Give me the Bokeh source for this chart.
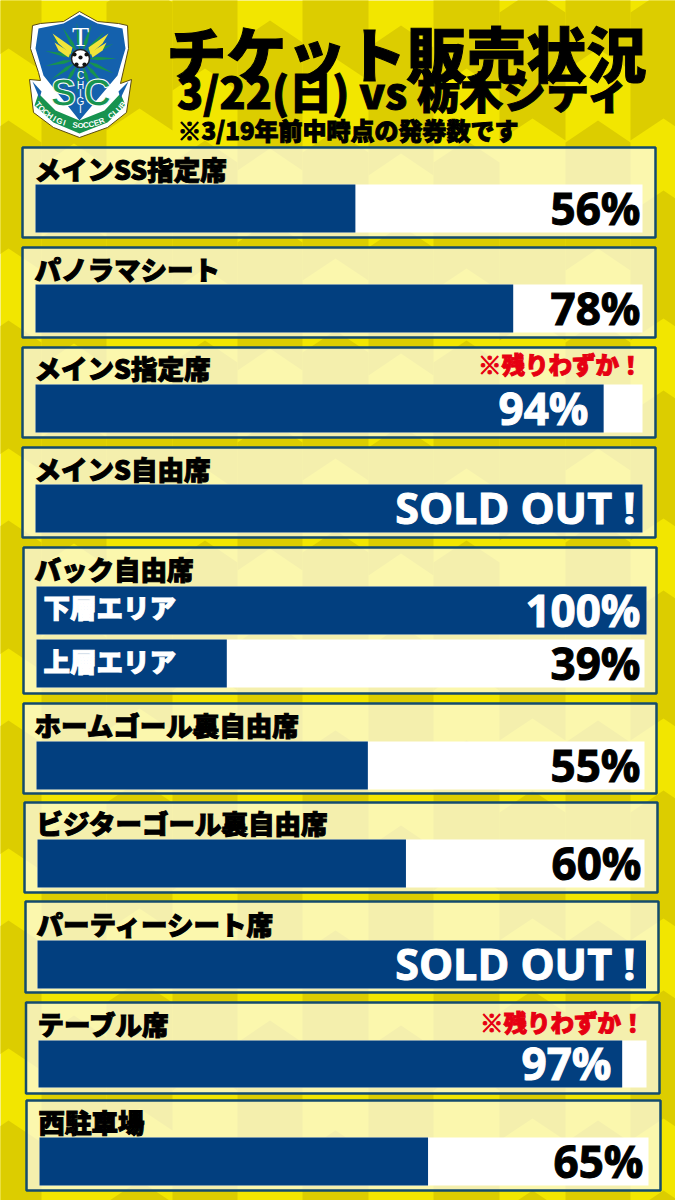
import math
from bokeh.plotting import figure
from bokeh.models import Range1d
from bokeh.core.properties import value
from bokeh.embed import file_html
from bokeh.resources import INLINE

# ---- chart values ----
title = "チケット販売状況"
subtitle = "3/22(日) vs 栃木シティ"
note = "※3/19年前中時点の発券数です"
few_left = "※残りわずか！"
seat_names = ["メインSS指定席", "パノラマシート", "メインS指定席", "メインS自由席", "バック自由席",
              "ホームゴール裏自由席", "ビジターゴール裏自由席", "パーティーシート席", "テーブル席", "西駐車場"]
row_labels = ["56%", "78%", "94%", "SOLD OUT !", "100%", "39%", "55%", "60%", "SOLD OUT !", "97%", "65%"]
row_fill = [52.7, 78.7, 93.6, 100, 100, 31.3, 54.5, 60.7, 100, 96.0, 63.8]
sub_labels = ["下層エリア", "上層エリア"]

# ---- layout (page pixels) ----
panel_l = [22, 22, 22, 22, 23, 23, 24, 25, 25.5, 26]
panel_r = [655, 655, 655, 655, 656, 656, 657, 658, 659, 660]
panel_t = [147, 247, 347, 447, 547, 703, 802, 901, 1002, 1100]
panel_b = [237, 337, 437, 537, 693, 793, 892, 992, 1093, 1190]
name_x = [34, 34, 34, 34, 34, 34, 36, 36, 37, 38]
name_y = [168, 268, 367, 468, 568, 724, 822, 923, 1023, 1121]
row_l = [35, 35, 35, 35, 36, 36, 36, 37, 37, 38, 39]
row_r = [642, 642, 642, 642, 646, 644, 644, 644, 645.5, 646, 648]
row_t = [184, 284, 384, 484, 586, 639, 741, 839, 940, 1040, 1137]
row_b = [232, 332, 432, 532, 634, 687, 789, 887, 988, 1087, 1185]
label_x = [640, 640, 588, 635, 640, 640, 640, 641, 635, 611, 643]
label_size = ["44px", "44px", "44px", "43px", "44px", "44px", "44px", "44px", "43px", "44px", "44px"]
label_white = [False, False, True, True, True, False, False, False, True, True, False]

NAVY = "#023f7f"
EDGE = "#134b6e"
YEL = "#f2e600"
DARK = "#dccd00"
GREEN = "#17934f"
JP = value("Noto Sans CJK JP Black")
NUM = value("Open Sans")
LATIN = value("Liberation Sans")

p = figure(width=675, height=1200, x_range=Range1d(0, 675), y_range=Range1d(1200, 0),
           toolbar_location=None, output_backend="svg", min_border=0)
p.axis.visible = False
p.grid.visible = False
p.outline_line_color = None
p.background_fill_color = YEL
p.border_fill_color = YEL

# background: columns of chevron tiles
col_edges = [-25, 41, 106, 172, 237, 302, 368, 433, 499, 565, 630, 696]
col_phase = [-80, 15, -20, -60, 20, -70, 25, -60, -10, -80, -10]
xs, ys = [], []
for c, ph in enumerate(col_phase):
    x0, x1 = col_edges[c], col_edges[c + 1]
    xc = (x0 + x1) / 2
    for j in range(-1, 8):
        y = ph + j * 200
        xs.append([x0, xc, x1, x1, xc, x0])
        ys.append([y + 22, y, y + 22, y + 150, y + 128, y + 150])
p.patches(xs, ys, fill_color=DARK, line_color=None)

# panels
p.quad(left=panel_l, right=panel_r, top=panel_t, bottom=panel_b,
       fill_color="#ffffff", fill_alpha=0.68, line_color=EDGE, line_width=2.5)

# tracks and bars
p.quad(left=row_l, right=row_r, top=row_t, bottom=row_b, fill_color="#ffffff", line_color=None)
row_end = [l + (r - l) * v / 100 for l, r, v in zip(row_l, row_r, row_fill)]
p.quad(left=row_l, right=row_end, top=row_t, bottom=row_b, fill_color=NAVY, line_color=None)

# seat names
p.text(name_x, name_y, text=seat_names, text_font=JP, text_font_size="26.5px",
       text_baseline="middle", text_color="#000000", text_outline_color="#000000")

# row values
row_mid = [(t + b) / 2 - 1 for t, b in zip(row_t, row_b)]
p.text(label_x, row_mid, text=row_labels, text_font=NUM, text_font_style="bold", text_font_size=label_size,
       text_align="right", text_baseline="middle",
       text_color=["#ffffff" if w else "#000000" for w in label_white],
       text_outline_color=["#ffffff" if w else "#000000" for w in label_white])

# sub rows
p.text([43, 43], [606, 660], text=sub_labels, text_font=JP, text_font_size="26.5px",
       text_baseline="middle", text_color="#ffffff", text_outline_color="#ffffff")

# low stock notes
p.text([642, 644], [363, 1021], text=[few_left, few_left], text_font=JP, text_font_size="23.5px",
       text_align="right", text_baseline="middle", text_color="#e60012", text_outline_color="#e60012")

# headers
p.text([406], [57], text=[title], text_font=value("Liberation Sans, 'Noto Sans CJK JP Black'"),
       text_font_size="60px", text_align="center", text_baseline="alphabetic",
       text_color="#000000", text_outline_color="#000000")
p.text([404], [89], text=[subtitle], text_font=JP, text_font_size="43px", text_align="center",
       text_baseline="middle", text_color="#000000", text_outline_color="#000000")
p.text([347.5], [129], text=[note], text_font=JP, text_font_size="24px", text_align="center",
       text_baseline="middle", text_color="#000000", text_outline_color="#000000")

# crest
outer_x = [79, 63, 40, 32, 30, 38, 40, 29, 33, 53, 79, 107, 126, 131, 120, 128, 127, 118, 97]
outer_y = [11, 21, 23, 25, 48, 72, 80, 79, 112, 127, 137, 127, 112, 79, 83, 48, 25, 23, 21]
p.patch(outer_x, outer_y, fill_color="#ffffff", line_color="#5a4a10", line_width=1)
blue_x = [79, 63, 38, 35, 43, 79, 117, 125, 122, 97]
blue_y = [14, 23, 28, 48, 75, 120, 75, 48, 28, 23]
p.patch(blue_x, blue_y, fill_color="#1461ad", line_color=None)
# rays
cx, cy = 80, 58
ray_x, ray_y = [], []
for deg in range(0, 360, 24):
    a, b, c = [math.radians(deg + d) for d in (0, -6, 6)]
    ray_x.append([cx + 8 * math.cos(a), cx + 17 * math.cos(b), cx + 36 * math.cos(a), cx + 17 * math.cos(c)])
    ray_y.append([cy + 8 * math.sin(a), cy + 17 * math.sin(b), cy + 36 * math.sin(a), cy + 17 * math.sin(c)])
p.patches(ray_x, ray_y, fill_color=GREEN, line_color=None)
# wings
for wx, wy in (([72, 52, 58, 66, 70], [47, 33, 43, 50, 54]), ([70, 54, 58, 68], [52, 42, 50, 57])):
    p.patch(wx, wy, fill_color="#f2e43a", line_color=None)
    p.patch([160 - v for v in wx], wy, fill_color="#f2e43a", line_color=None)
# ribbon
rib_x = [34, 53, 79, 107, 125, 120, 104, 79, 55, 38]
rib_y = [105, 122, 133, 122, 105, 93, 110, 120, 110, 93]
p.patch(rib_x, rib_y, fill_color=GREEN, line_color=None)
p.patches([[32, 41, 39], [128, 118, 120]], [[81, 91, 98], [81, 91, 98]], fill_color="#1461ad", line_color=None)
# letters
p.text([80], [36], text=["T"], text_font=value("Liberation Serif"), text_font_size="28px", text_align="center",
       text_baseline="middle", text_color="#ffffff")
p.text([80, 80, 80, 80, 80], [75, 85, 93, 101, 109], text=list("CHIGI"), text_font=LATIN,
       text_font_size="10px", text_align="center", text_baseline="middle", text_color="#ffffff")
p.text([63, 97], [92, 92], text=["S", "C"], text_font=LATIN, text_font_size="38px", text_font_style="bold",
       text_align="center", text_baseline="middle", text_color=GREEN, text_outline_color="#ffffff")
# ball
p.circle([80], [58], radius=9, fill_color="#ffffff", line_color="#222222", line_width=1.5)
p.circle([80, 74, 86, 76, 84], [57, 54, 54, 64, 64], radius=2.1, fill_color="#111111", line_color=None)
# club name along the ribbon
club = "TOCHIGI SOCCER CLUB"
lx, ly, la = [], [], []
for k, ch in enumerate(club):
    t = math.radians(142 - k * (104 / (len(club) - 1)))
    lx.append(80 + 54 * math.cos(t))
    ly.append(71 + 54 * math.sin(t))
    la.append(-(t - math.pi / 2))
p.text(lx, ly, text=list(club), angle=la, text_font=LATIN, text_font_size="8px", text_font_style="bold",
       text_align="center", text_baseline="middle", text_color="#ffffff")

open("out.html", "w").write(file_html(p, INLINE))
